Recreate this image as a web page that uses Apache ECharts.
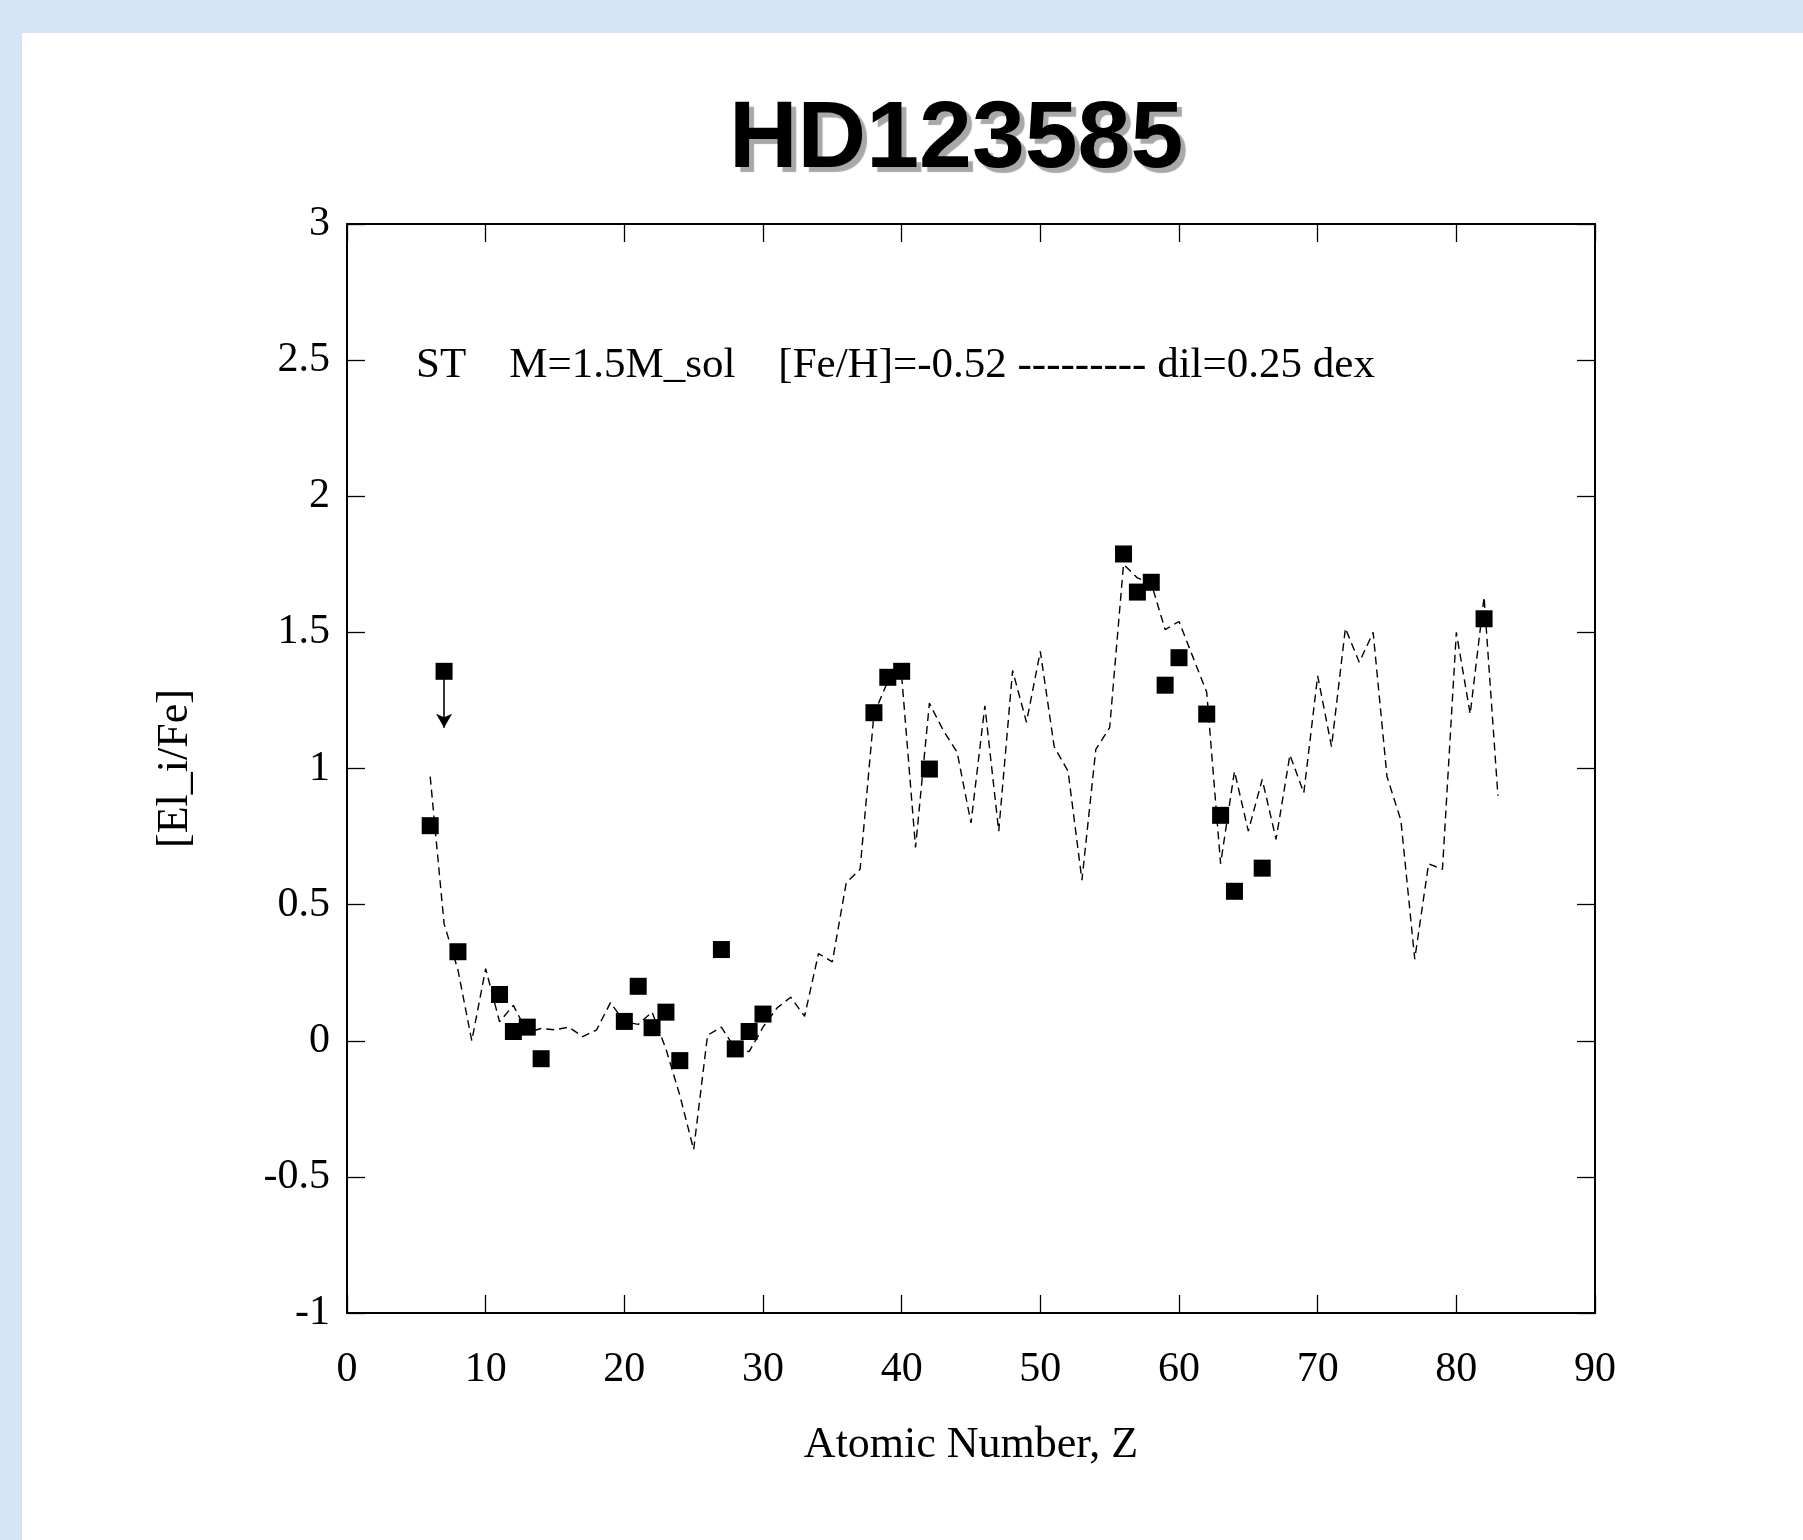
<!DOCTYPE html>
<html>
<head>
<meta charset="utf-8">
<script src="https://cdn.jsdelivr.net/npm/echarts@6/dist/echarts.min.js"></script>
<style>
  html, body { margin: 0; padding: 0; background: #d6e5f5; }
  #sheet { position: absolute; left: 22px; top: 33px; width: 1781px; height: 1507px; background: #ffffff; }
  #chart { position: absolute; left: 0; top: 0; width: 1803px; height: 1540px; }
</style>
</head>
<body>
<div id="sheet"></div>
<div id="chart"></div>
<script>
// Model curve (dashed): atomic number and [El_i/Fe]
const modelZ = [6,7,8,9,10,11,12,13,14,15,16,17,18,19,20,21,22,23,24,25,26,27,28,29,30,
  31,32,33,34,35,36,37,38,39,40,41,42,43,44,45,46,47,48,49,50,51,52,53,54,55,56,57,58,59,60,
  61,62,63,64,65,66,67,68,69,70,71,72,73,74,75,76,77,78,79,80,81,82,83];
const modelV = [0.97,0.43,0.26,0.00,0.265,0.07,0.13,0.03,0.045,0.04,0.05,0.015,0.04,0.14,0.07,0.06,0.105,-0.03,-0.20,-0.40,0.02,0.05,-0.03,-0.04,0.05,
  0.12,0.16,0.09,0.32,0.29,0.58,0.63,1.20,1.32,1.34,0.71,1.24,1.14,1.06,0.80,1.23,0.77,1.36,1.17,1.43,1.08,0.99,0.59,1.07,1.15,1.75,1.70,1.68,1.51,1.54,
  1.41,1.28,0.65,0.99,0.77,0.96,0.74,1.05,0.91,1.34,1.08,1.515,1.39,1.50,0.97,0.81,0.30,0.65,0.63,1.50,1.20,1.63,0.90];

// Observed abundances (filled squares)
const obsZ = [6,7,8,11,12,13,14,20,21,22,23,24,27,28,29,30,38,39,40,42,56,57,58,59,60,62,63,64,66,82];
const obsV = [0.79,1.357,0.327,0.17,0.034,0.05,-0.066,0.071,0.20,0.048,0.105,-0.073,0.335,-0.03,0.034,0.098,
  1.205,1.335,1.357,0.998,1.788,1.648,1.684,1.306,1.407,1.20,0.828,0.549,0.634,1.55];

// Upper limit (N): from value down to arrow tip
const limitZ = 7;
const limitFrom = 1.357;
const limitTo = 1.15;

const xTicks = [0,10,20,30,40,50,60,70,80,90];
const yTicks = [-1,-0.5,0,0.5,1,1.5,2,2.5,3];

const titleText = 'HD123585';
const noteText = 'ST    M=1.5M_sol    [Fe/H]=-0.52 --------- dil=0.25 dex';
const xName = 'Atomic Number, Z';
const yName = '[El_i/Fe]';

const serif = '"Liberation Serif", "DejaVu Serif", serif';
const chart = echarts.init(document.getElementById('chart'), null, { renderer: 'canvas' });

function axisBase() {
  return {
    type: 'value',
    axisLine: { show: true, onZero: false, lineStyle: { color: '#000', width: 2 } },
    axisTick: { show: true, inside: true, length: 18, lineStyle: { color: '#000', width: 1.3 } },
    splitLine: { show: false }
  };
}

chart.setOption({
  animation: false,
  backgroundColor: 'transparent',
  title: {
    text: titleText,
    left: 724,
    top: 88,
    textStyle: {
      fontFamily: '"Liberation Sans", Arial, sans-serif',
      fontWeight: 'bold',
      fontSize: 95,
      color: '#000',
      textShadowColor: '#a8a8a8',
      textShadowOffsetX: 5,
      textShadowOffsetY: 5,
      textShadowBlur: 1
    }
  },
  graphic: [{
    type: 'text',
    left: 416,
    top: 344,
    style: { text: noteText, font: '43px ' + serif, fill: '#000' }
  }],
  grid: { left: 347, right: 208, top: 224, bottom: 227, containLabel: false },
  xAxis: [
    Object.assign(axisBase(), {
      min: 0, max: 90, interval: 10, position: 'bottom',
      name: xName, nameLocation: 'middle', nameGap: 110,
      nameTextStyle: { fontFamily: serif, fontSize: 44, color: '#000' },
      axisLabel: { show: true, margin: 36, fontFamily: serif, fontSize: 42, color: '#000',
        formatter: v => xTicks.indexOf(v) >= 0 ? String(v) : '' }
    }),
    Object.assign(axisBase(), {
      min: 0, max: 90, interval: 10, position: 'top', axisLabel: { show: false }
    })
  ],
  yAxis: [
    Object.assign(axisBase(), {
      min: -1, max: 3, interval: 0.5, position: 'left',
      name: yName, nameLocation: 'middle', nameGap: 150, nameRotate: 90,
      nameTextStyle: { fontFamily: serif, fontSize: 44, color: '#000' },
      axisLabel: { show: true, margin: 17, fontFamily: serif, fontSize: 42, color: '#000',
        formatter: v => yTicks.indexOf(v) >= 0 ? String(v) : '' }
    }),
    Object.assign(axisBase(), {
      min: -1, max: 3, interval: 0.5, position: 'right', axisLabel: { show: false }
    })
  ],
  series: [
    {
      type: 'line',
      xAxisIndex: 0, yAxisIndex: 0,
      data: modelZ.map((z, i) => [z, modelV[i]]),
      symbol: 'none',
      lineStyle: { color: '#000', width: 1.4, type: [8, 5] },
      z: 2
    },
    {
      type: 'scatter',
      xAxisIndex: 0, yAxisIndex: 0,
      data: obsZ.map((z, i) => [z, obsV[i]]),
      symbol: 'rect',
      symbolSize: 17,
      itemStyle: { color: '#000', opacity: 1 },
      z: 3,
      markLine: {
        silent: true,
        symbol: ['none', 'arrow'],
        symbolSize: [12, 14],
        label: { show: false },
        lineStyle: { color: '#000', width: 1.6, type: 'solid', opacity: 1 },
        data: [[{ coord: [limitZ, limitFrom] }, { coord: [limitZ, limitTo] }]]
      }
    }
  ]
});
</script>
</body>
</html>
